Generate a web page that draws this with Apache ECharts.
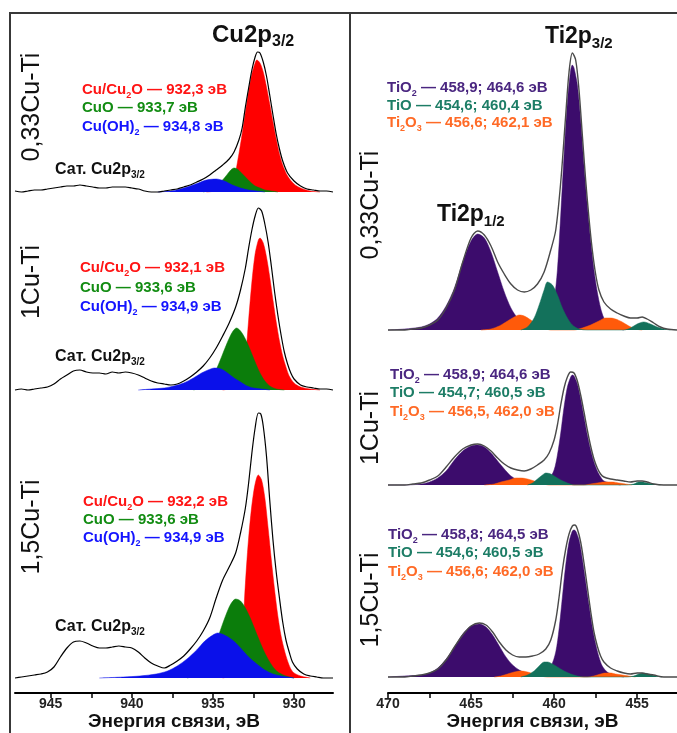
<!DOCTYPE html>
<html><head><meta charset="utf-8">
<script src="https://cdn.jsdelivr.net/npm/echarts@6/dist/echarts.min.js"></script>
<style>html,body{margin:0;padding:0;background:#fff}#c{width:677px;height:733px}</style>
</head><body><div id="c"></div><script>
// ---------- DATA ----------
const cuSamples = ['0,33Cu-Ti', '1Cu-Ti', '1,5Cu-Ti'];
const tiSamples = ['0,33Cu-Ti', '1Cu-Ti', '1,5Cu-Ti'];
const cuTicks = [945, 940, 935, 930];
const cuMinorTicks = [942.5, 937.5, 932.5];
const tiTicks = [470, 465, 460, 455];
const tiMinorTicks = [467.5, 462.5, 457.5];
const axisTitle = 'Энергия связи, эВ';
// Cu component positions (Cu/Cu2O, CuO, Cu(OH)2)
const cuPeakEnergies = [[932.3, 933.7, 934.8], [932.1, 933.6, 934.9], [932.2, 933.6, 934.9]];
// Ti component positions (TiO2, TiO, Ti2O3) : [2p3/2, 2p1/2]
const tiPeakEnergies = [
  [[458.9, 464.6], [454.6, 460.4], [456.6, 462.1]],
  [[458.9, 464.6], [454.7, 460.5], [456.5, 462.0]],
  [[458.8, 464.5], [454.6, 460.5], [456.6, 462.0]]
];
const tiSeparators = [['; ', '; ', '; '], ['; ', '; ', ', '], ['; ', '; ', '; ']];

// Cu2p spectra [binding energy, intensity]
const cu1Env = [[947.2,1],[946.8,0],[946.4,1],[946.0,2],[945.6,2],[945.2,3],[944.8,4],[944.4,5],[944.0,6],[943.6,6],[943.2,7],[942.8,6],[942.4,5],[942.0,4],[941.6,4],[941.2,5],[940.8,5],[940.4,5],[940.0,4],[939.6,3],[939.2,1],[938.8,0],[938.4,0],[938.0,1],[937.6,2],[937.2,3],[936.8,5],[936.4,7],[936.0,10],[935.6,13],[935.2,17],[934.8,22],[934.4,27],[934.0,33],[933.7,40],[933.4,52],[933.2,64],[933.0,85],[932.8,104],[932.6,122],[932.4,135],[932.25,140],[932.1,139],[931.9,130],[931.7,116],[931.5,97],[931.3,77],[931.1,58],[930.9,43],[930.7,31],[930.4,19],[930.0,11],[929.6,6],[929.2,3],[928.8,2],[928.4,1],[928.0,1],[927.6,0]];
const cu1Red = [[935.4,0],[934.8,1],[934.2,3],[933.8,6],[933.65,12],[933.55,24],[933.4,38],[933.2,58],[933.0,80],[932.8,101],[932.6,118],[932.4,129],[932.3,132],[932.1,129],[931.9,120],[931.7,105],[931.5,88],[931.3,70],[931.1,53],[930.9,38],[930.7,27],[930.4,16],[930.0,8],[929.6,4],[929.0,1],[928.4,0]];
const cu1Green = [[935.6,0],[935.2,2],[934.8,6],[934.4,12],[934.1,18],[933.9,22],[933.7,24],[933.5,23],[933.3,20],[933.0,15],[932.7,10],[932.4,6],[932.1,4],[931.8,2],[931.4,1],[931.0,0]];
const cu1Blue = [[938.4,0],[937.6,1],[937.0,3],[936.4,6],[935.9,9],[935.4,12],[934.8,13],[934.3,11],[933.8,7],[933.3,4],[932.8,2],[932.3,1],[931.8,0]];

const cu2Env = [[947.2,0],[946.8,1],[946.4,0],[946.0,1],[945.6,2],[945.2,3],[944.8,6],[944.4,11],[944.0,15],[943.6,19],[943.2,20],[942.8,18],[942.4,17],[942.0,17],[941.6,16],[941.2,18],[940.8,17],[940.4,18],[940.0,17],[939.6,15],[939.2,12],[938.8,9],[938.4,7],[938.0,6],[937.6,5],[937.2,6],[936.8,9],[936.4,13],[936.0,18],[935.6,24],[935.2,32],[934.8,42],[934.4,54],[934.0,67],[933.6,83],[933.3,100],[933.0,122],[932.8,142],[932.6,160],[932.4,174],[932.2,182],[932.0,179],[931.8,166],[931.6,148],[931.4,124],[931.2,98],[931.0,75],[930.8,55],[930.6,38],[930.4,26],[930.2,17],[930.0,11],[929.6,5],[929.2,3],[928.8,2],[928.4,1],[928.0,1],[927.6,0]];
const cu2Red = [[934.4,0],[933.8,2],[933.4,6],[933.15,14],[933.0,30],[932.8,70],[932.6,108],[932.4,136],[932.2,150],[932.1,152],[931.9,147],[931.7,133],[931.5,113],[931.3,90],[931.1,68],[930.9,49],[930.7,34],[930.5,23],[930.3,14],[930.0,7],[929.6,3],[929.0,1],[928.4,0]];
const cu2Green = [[936.2,0],[935.8,2],[935.4,6],[935.0,14],[934.7,24],[934.4,36],[934.1,48],[933.8,58],[933.55,62],[933.3,59],[933.0,51],[932.7,40],[932.4,28],[932.1,17],[931.8,9],[931.5,4],[931.1,1],[930.6,0]];
const cu2Blue = [[939.6,0],[938.8,1],[938.0,2],[937.4,4],[936.8,7],[936.2,12],[935.7,17],[935.3,20],[934.9,22],[934.5,21],[934.1,17],[933.7,12],[933.3,8],[932.9,4],[932.5,2],[932.0,1],[931.5,0]];

const cu3Env = [[947.2,0],[946.8,1],[946.4,2],[946.0,3],[945.6,4],[945.2,6],[944.8,11],[944.4,21],[944.0,30],[943.6,36],[943.2,37],[942.8,35],[942.4,32],[942.0,30],[941.6,30],[941.2,31],[940.8,32],[940.4,31],[940.0,30],[939.6,26],[939.2,20],[938.8,15],[938.4,12],[938.0,10],[937.6,13],[937.2,17],[936.8,22],[936.4,29],[936.0,37],[935.6,47],[935.2,60],[934.8,80],[934.4,98],[934.0,111],[933.6,125],[933.3,145],[933.0,170],[932.8,195],[932.6,225],[932.4,250],[932.2,265],[932.05,264],[931.9,252],[931.7,222],[931.5,178],[931.3,138],[931.1,106],[930.9,80],[930.7,56],[930.5,38],[930.3,26],[930.1,16],[929.8,9],[929.4,4],[929.0,2],[928.6,1],[928.2,0],[927.6,0]];
const cu3Red = [[934.4,0],[933.8,3],[933.4,10],[933.2,25],[933.05,80],[932.8,140],[932.5,185],[932.2,203],[932.0,198],[931.8,180],[931.6,150],[931.4,118],[931.2,88],[931.0,62],[930.8,42],[930.6,28],[930.4,17],[930.2,9],[930.0,5],[929.6,2],[929.0,0]];
const cu3Green = [[936.6,0],[936.0,3],[935.5,10],[935.0,25],[934.6,45],[934.2,63],[933.9,74],[933.6,79],[933.3,77],[933.0,70],[932.7,60],[932.4,48],[932.1,36],[931.8,25],[931.5,16],[931.2,9],[930.9,5],[930.5,2],[930.0,0]];
const cu3Blue = [[942.0,0],[940.5,1],[939.5,2],[938.5,4],[937.8,7],[937.2,12],[936.6,19],[936.0,28],[935.5,37],[935.0,43],[934.7,45],[934.3,43],[933.8,38],[933.3,30],[932.8,21],[932.3,14],[931.8,8],[931.3,4],[930.8,2],[930.0,0]];

// Ti2p spectra
const ti1Env = [[470,0],[469,0],[468.5,1],[468,2],[467.5,5],[467,10],[466.5,22],[466,40],[465.5,68],[465,92],[464.6,99],[464.2,95],[463.8,84],[463.4,68],[463,56],[462.6,46],[462.2,40],[461.8,38],[461.4,40],[461,46],[460.6,58],[460.2,80],[459.9,100],[459.6,148],[459.3,215],[459.1,258],[458.9,277],[458.7,270],[458.5,240],[458.3,195],[458.1,150],[457.9,112],[457.7,80],[457.5,56],[457.3,40],[457,28],[456.6,21],[456.2,17],[455.8,14],[455.4,12],[455,12],[454.7,13],[454.4,11],[454,7],[453.6,3],[453.2,1],[452.6,0]];
const ti1Purple = [[470,0],[469,1],[468,3],[467.5,6],[467,12],[466.5,24],[466,42],[465.5,68],[465,89],[464.6,96],[464.2,92],[463.8,78],[463.4,58],[463,38],[462.6,22],[462.2,12],[461.8,6],[461.4,4],[461,4],[460.6,6],[460.3,12],[460,30],[459.8,60],[459.6,115],[459.4,175],[459.2,228],[459,260],[458.9,265],[458.8,262],[458.6,245],[458.4,210],[458.2,165],[458,125],[457.8,90],[457.6,60],[457.4,38],[457.2,22],[457,12],[456.7,5],[456.3,2],[455.8,0]];
const ti1Orange = [[464.4,0],[463.8,1],[463.3,4],[462.8,9],[462.4,13],[462.1,15],[461.8,14],[461.4,10],[461.0,5],[460.6,2],[460.2,0],[458.8,0],[458.3,2],[457.8,5],[457.3,9],[456.9,12],[456.6,12],[456.3,11],[455.9,8],[455.5,4],[455.1,1],[454.7,0]];
const ti1Teal = [[462.0,0],[461.6,3],[461.2,12],[460.9,25],[460.6,40],[460.4,48],[460.1,45],[459.8,35],[459.5,22],[459.2,12],[458.9,5],[458.5,1],[458.0,0],[455.8,0],[455.4,2],[455.0,6],[454.6,8],[454.2,6],[453.8,3],[453.4,1],[453.0,0]];

const ti2Env = [[470,0],[469,0],[468.5,1],[468,2],[467.5,5],[467,9],[466.5,18],[466,28],[465.5,36],[465,40],[464.6,41],[464.2,39],[463.8,34],[463.4,27],[463,21],[462.6,17],[462.2,15],[461.8,14],[461.4,16],[461,20],[460.6,25],[460.3,32],[460,45],[459.8,60],[459.6,80],[459.4,97],[459.2,108],[459,113],[458.8,112],[458.6,104],[458.4,90],[458.2,73],[458,55],[457.8,39],[457.6,26],[457.4,17],[457.2,11],[457,8],[456.6,6],[456.2,5],[455.8,4],[455.4,3],[455,4],[454.7,4],[454.4,3],[454,1],[453.4,0],[452.6,0]];
const ti2Purple = [[470,0],[469,0],[468,1],[467.5,3],[467,7],[466.5,14],[466,25],[465.5,34],[465,39],[464.6,40],[464.2,38],[463.8,32],[463.4,24],[463,16],[462.6,9],[462.2,5],[461.8,3],[461.4,2],[461,2],[460.6,3],[460.3,6],[460,15],[459.8,30],[459.6,52],[459.4,78],[459.2,98],[459,108],[458.9,110],[458.8,109],[458.6,101],[458.4,86],[458.2,68],[458,50],[457.8,35],[457.6,23],[457.4,14],[457.2,8],[457,4],[456.6,2],[456,0]];
const ti2Orange = [[464.2,0],[463.6,1],[463.2,3],[462.7,5],[462.3,7],[462.0,7],[461.6,6],[461.2,4],[460.8,2],[460.3,0],[458.2,0],[457.8,1],[457.4,2],[457.0,3],[456.5,3],[456.1,2],[455.7,1],[455.3,0]];
const ti2Teal = [[461.6,0],[461.3,2],[461.0,6],[460.7,10],[460.5,12],[460.2,11],[459.9,8],[459.6,5],[459.2,2],[458.8,0],[455.6,0],[455.2,1],[454.9,3],[454.7,3],[454.4,2],[454.0,1],[453.6,0]];

const ti3Env = [[470,0],[469,0],[468.5,1],[468,2],[467.5,4],[467,8],[466.5,17],[466,30],[465.5,42],[465,51],[464.5,54],[464.1,52],[463.7,45],[463.3,35],[462.9,27],[462.5,22],[462.1,20],[461.7,20],[461.3,21],[460.9,23],[460.5,28],[460.2,37],[459.9,57],[459.7,80],[459.5,107],[459.3,128],[459.1,143],[458.9,151],[458.75,152],[458.6,148],[458.4,135],[458.2,114],[458,90],[457.8,66],[457.6,45],[457.4,31],[457.2,21],[457,15],[456.6,9],[456.2,6],[455.8,4],[455.4,3],[455,4],[454.7,4],[454.4,3],[454,2],[453.4,0],[452.6,0]];
const ti3Purple = [[470,0],[469,1],[468,2],[467.5,4],[467,9],[466.5,18],[466,30],[465.5,43],[465,51],[464.5,53],[464.1,50],[463.7,42],[463.3,31],[462.9,20],[462.5,12],[462.1,7],[461.7,4],[461.3,3],[460.9,3],[460.5,5],[460.2,10],[459.9,25],[459.7,48],[459.5,80],[459.3,112],[459.1,135],[458.9,146],[458.8,147],[458.7,146],[458.5,137],[458.3,118],[458.1,95],[457.9,72],[457.7,50],[457.5,33],[457.3,20],[457.1,11],[456.8,5],[456.4,2],[455.8,0]];
const ti3Orange = [[463.6,0],[463.2,1],[462.8,3],[462.4,5],[462.0,6],[461.6,5],[461.2,3],[460.8,1],[460.4,0],[458.0,0],[457.6,1],[457.2,3],[456.9,4],[456.6,4],[456.3,3],[455.9,2],[455.5,1],[455.1,0]];
const ti3Teal = [[462.0,0],[461.6,2],[461.2,6],[460.9,11],[460.6,15],[460.4,15],[460.1,13],[459.8,10],[459.4,6],[459.0,3],[458.6,1],[458.2,0],[455.6,0],[455.2,1],[454.9,3],[454.6,4],[454.3,3],[453.9,1],[453.5,0]];

// ---------- LAYOUT / STYLE ----------
const FONT = '"Liberation Sans", Arial, sans-serif';
const CU_FILL = ['#ff0000', '#0b7d0b', '#0a10ea'];
const CU_TEXT = ['#ff1414', '#128c12', '#1414ff'];
const TI_FILL = ['#3c0c6c', '#13715b', '#ff5a0a'];
const TI_TEXT = ['#4a2680', '#1d7d66', '#ff6a26'];
const LEFT = {left: 15, width: 318, min: 927.6, max: 947.2};
const RIGHT = {left: 388, width: 289, min: 452.6, max: 470};
const gridSpec = [
  {side: LEFT, top: 40, height: 155, ymin: -3},
  {side: LEFT, top: 200, height: 193, ymin: -3},
  {side: LEFT, top: 400, height: 293, ymin: -15},
  {side: RIGHT, top: 40, height: 293, ymin: -3},
  {side: RIGHT, top: 340, height: 148, ymin: -3},
  {side: RIGHT, top: 500, height: 193, ymin: -16}
];
const bottomGrids = {2: {ticks: cuTicks, minor: cuMinorTicks}, 5: {ticks: tiTicks, minor: tiMinorTicks}};

const grid = gridSpec.map(g => ({left: g.side.left, width: g.side.width, top: g.top, height: g.height}));
const yAxis = gridSpec.map((g, i) => ({gridIndex: i, type: 'value', show: false, min: g.ymin, max: g.ymin + g.height}));
const xAxis = gridSpec.map((g, i) => {
  const b = bottomGrids[i];
  if (!b) return {gridIndex: i, type: 'value', show: false, position: 'bottom', min: g.side.min, max: g.side.max, inverse: true};
  return {
    gridIndex: i, type: 'value', position: 'bottom', min: g.side.min, max: g.side.max, inverse: true,
    axisLine: {show: true, onZero: false, lineStyle: {color: '#000', width: 2}},
    axisTick: {show: true, length: 5, customValues: b.ticks.concat(b.minor), lineStyle: {color: '#000', width: 1.5}},
    axisLabel: {customValues: b.ticks, margin: 4, fontSize: 14, fontWeight: 'bold', color: '#222', fontFamily: FONT},
    splitLine: {show: false},
    name: axisTitle, nameLocation: 'middle', nameGap: 19,
    nameTextStyle: {fontSize: 19, fontWeight: 'bold', color: '#111', fontFamily: FONT}
  };
});

function area(gi, data, color, z) {
  return {type: 'line', xAxisIndex: gi, yAxisIndex: gi, data, symbol: 'none', smooth: 0.3, z,
    lineStyle: {width: 0.5, color}, areaStyle: {color, opacity: 1}, silent: true};
}
function env(gi, data, color, w, z) {
  return {type: 'line', xAxisIndex: gi, yAxisIndex: gi, data, symbol: 'none', smooth: 0.3, z,
    lineStyle: {width: w, color}, silent: true};
}
const cuSets = [[cu1Red, cu1Green, cu1Blue, cu1Env], [cu2Red, cu2Green, cu2Blue, cu2Env], [cu3Red, cu3Green, cu3Blue, cu3Env]];
const tiSets = [[ti1Purple, ti1Teal, ti1Orange, ti1Env], [ti2Purple, ti2Teal, ti2Orange, ti2Env], [ti3Purple, ti3Teal, ti3Orange, ti3Env]];
const series = [];
cuSets.forEach((s, i) => {
  series.push(area(i, s[0], CU_FILL[0], 2), area(i, s[1], CU_FILL[1], 3), area(i, s[2], CU_FILL[2], 4), env(i, s[3], '#000', 1.2, 6));
});
tiSets.forEach((s, i) => {
  const gi = i + 3;
  series.push(area(gi, s[0], TI_FILL[0], 2), area(gi, s[2], TI_FILL[2], 3), area(gi, s[1], TI_FILL[1], 4), env(gi, s[3], '#4a4a4a', 1.4, 6));
});

// ---------- TEXT ----------
const fmt = v => v.toFixed(1).replace('.', ',');
function richText(parts, x, y, size, color, weight, subRatio) {
  const text = parts.map(p => '{' + (p[1] ? 's' : 'n') + '|' + p[0] + '}').join('');
  const sub = Math.round(size * (subRatio || 0.62));
  return {
    type: 'text', x, y, silent: true, z: 100,
    style: {
      text, fill: color, align: 'left', verticalAlign: 'middle', textAlign: 'left', textVerticalAlign: 'middle',
      rich: {
        n: {fontSize: size, fontWeight: weight, fontFamily: FONT, fill: color, lineHeight: size + 5},
        s: {fontSize: sub, fontWeight: weight, fontFamily: FONT, fill: color, lineHeight: sub, verticalAlign: 'bottom'}
      }
    }
  };
}
function rotLabel(t, x, y) {
  return {type: 'text', x, y, rotation: Math.PI / 2, silent: true, z: 100,
    style: {text: t, fill: '#111', fontSize: 25, fontFamily: FONT, align: 'center', verticalAlign: 'middle', textAlign: 'center', textVerticalAlign: 'middle'}};
}
const graphic = [];
// frame lines
[[9, 13, 677, 13], [10, 13, 10, 733], [350, 13, 350, 733]].forEach(l => graphic.push({
  type: 'line', shape: {x1: l[0], y1: l[1], x2: l[2], y2: l[3]}, style: {stroke: '#383838', lineWidth: 2}, silent: true, z: 100
}));
// sample labels
const cuLabelY = [107, 282, 527], tiLabelY = [205, 428, 600];
cuSamples.forEach((s, i) => graphic.push(rotLabel(s, 32, cuLabelY[i])));
tiSamples.forEach((s, i) => graphic.push(rotLabel(s, 371, tiLabelY[i])));
// peak titles
graphic.push(richText([['Cu2p'], ['3/2', 1]], 212, 35, 24, '#111', 'bold', 0.66));
graphic.push(richText([['Ti2p'], ['3/2', 1]], 545, 37, 23, '#111', 'bold', 0.66));
graphic.push(richText([['Ti2p'], ['1/2', 1]], 437, 215, 23, '#111', 'bold', 0.66));
// satellite labels
[170, 357, 627].forEach(y => graphic.push(richText([['Сат. Cu2p'], ['3/2', 1]], 55, y, 16, '#111', 'bold')));
// Cu component annotations
const cuAnnX = [82, 80, 83], cuAnnY = [[90, 108, 127], [268, 288, 307], [502, 520, 538]];
cuPeakEnergies.forEach((e, i) => {
  const lines = [
    [['Cu/Cu'], ['2', 1], ['O — ' + fmt(e[0]) + ' эВ']],
    [['CuO — ' + fmt(e[1]) + ' эВ']],
    [['Cu(OH)'], ['2', 1], [' — ' + fmt(e[2]) + ' эВ']]
  ];
  lines.forEach((p, k) => graphic.push(richText(p, cuAnnX[i], cuAnnY[i][k], 15, CU_TEXT[k], 'bold')));
});
// Ti component annotations
const tiAnnX = [387, 390, 388], tiAnnY = [[88, 106, 123], [375, 393, 412], [535, 553, 572]];
tiPeakEnergies.forEach((e, i) => {
  const sp = tiSeparators[i];
  const lines = [
    [['TiO'], ['2', 1], [' — ' + fmt(e[0][0]) + sp[0] + fmt(e[0][1]) + ' эВ']],
    [['TiO — ' + fmt(e[1][0]) + sp[1] + fmt(e[1][1]) + ' эВ']],
    [['Ti'], ['2', 1], ['O'], ['3', 1], [' — ' + fmt(e[2][0]) + sp[2] + fmt(e[2][1]) + ' эВ']]
  ];
  lines.forEach((p, k) => graphic.push(richText(p, tiAnnX[i], tiAnnY[i][k], 15, TI_TEXT[k], 'bold')));
});

const chart = echarts.init(document.getElementById('c'), null, {renderer: 'canvas'});
chart.setOption({animation: false, backgroundColor: '#fff', grid, xAxis, yAxis, series, graphic});
</script></body></html>
